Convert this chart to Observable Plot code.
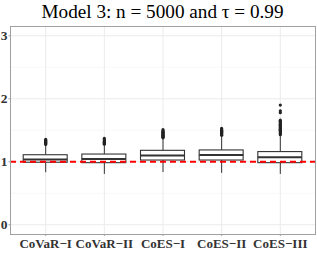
<!DOCTYPE html>
<html><head><meta charset="utf-8">
<script src="https://cdn.jsdelivr.net/npm/d3@7"></script>
<script src="https://cdn.jsdelivr.net/npm/@observablehq/plot@0.6"></script>
<style>
body{margin:0;background:#fff;}
svg{overflow:visible;display:block;}
</style></head>
<body>
<div id="title" style="font-family:'Liberation Serif';font-size:19.2px;height:25px;line-height:23px;width:317px;text-align:center;padding-left:8px;box-sizing:border-box;color:#000;white-space:nowrap;"></div>
<div id="chart"></div>
<script>
const titleText = "Model 3: n = 5000 and τ = 0.99";
const categories = ["CoVaR−I","CoVaR−II","CoES−I","CoES−II","CoES−III"];
const q1 =        [0.985, 0.978, 1.020, 1.020, 0.978];
const medians =   [1.038, 1.043, 1.100, 1.108, 1.072];
const q3 =        [1.104, 1.115, 1.174, 1.180, 1.154];
const whiskLow =  [0.826, 0.800, 0.830, 0.816, 0.800];
const whiskHigh = [1.265, 1.265, 1.365, 1.405, 1.420];
const outliers = [
  [1.275,1.29,1.30,1.31,1.32,1.33,1.34,1.355],
  [1.28,1.29,1.30,1.31,1.32,1.335,1.35,1.37],
  [1.38,1.39,1.40,1.41,1.42,1.43,1.44,1.45,1.46,1.47,1.48,1.49,1.51],
  [1.42,1.43,1.44,1.45,1.46,1.47,1.48,1.49,1.50,1.51,1.53],
  [1.43,1.445,1.46,1.475,1.49,1.50,1.515,1.53,1.545,1.56,1.575,1.59,1.60,1.615,1.63,1.645,1.66,1.78,1.81,1.90]
];
const refValue = 1;
const yTicks = [0,1,2,3];
const yMinor = [0.5,1.5,2.5];

document.getElementById("title").textContent = titleText;

const boxes = categories.map((c,i)=>({i:i+1,c,q1:q1[i],med:medians[i],q3:q3[i],lo:whiskLow[i],hi:whiskHigh[i]}));
const pts = outliers.flatMap((arr,i)=>arr.map(v=>({i:i+1,v})));
const hw = 0.375;
const ink = "#333333";

const plot = Plot.plot({
  width: 317, height: 228,
  marginTop: 1, marginBottom: 19, marginLeft: 10, marginRight: 2,
  style: {fontFamily: "Liberation Serif", background: "#fff", overflow: "visible"},
  x: {domain: [0.4, 5.6]},
  y: {domain: [-0.154, 3.147]},
  marks: [
    Plot.ruleY(yMinor, {stroke: "#f3f3f3", strokeWidth: 0.6}),
    Plot.ruleY(yTicks, {stroke: "#ebebeb", strokeWidth: 1}),
    Plot.ruleX(boxes, {x: "i", stroke: "#ebebeb", strokeWidth: 1}),
    Plot.ruleX(boxes, {x: "i", y1: "lo", y2: "q1", stroke: ink, strokeWidth: 1}),
    Plot.ruleX(boxes, {x: "i", y1: "q3", y2: "hi", stroke: ink, strokeWidth: 1}),
    Plot.rect(boxes, {x1: d=>d.i-hw, x2: d=>d.i+hw, y1: "q1", y2: "q3", fill: "#fff", stroke: ink, strokeWidth: 1.1}),
    Plot.ruleY(boxes, {x1: d=>d.i-hw, x2: d=>d.i+hw, y: "med", stroke: ink, strokeWidth: 2}),
    Plot.dot(pts, {x: "i", y: "v", r: 1.6, fill: "#222", stroke: "none"}),
    Plot.ruleY([refValue], {stroke: "#ff0000", strokeWidth: 2, strokeDasharray: "6,4"}),
    Plot.frame({stroke: "#a0a0a0", strokeWidth: 1}),
    Plot.axisY(yTicks, {tickSize: 1.5, tickPadding: 1.5, stroke: "#a0a0a0", fontSize: 13.5, fontWeight: "bold", fill: "#333", label: null, tickFormat: d=>String(d)}),
    Plot.axisX([1,2,3,4,5], {tickSize: 2, tickPadding: 2, stroke: "#a0a0a0", fontSize: 13, fontWeight: "bold", fill: "#333", label: null, tickFormat: d=>categories[d-1]})
  ]
});
document.getElementById("chart").appendChild(plot);
</script>
</body></html>
